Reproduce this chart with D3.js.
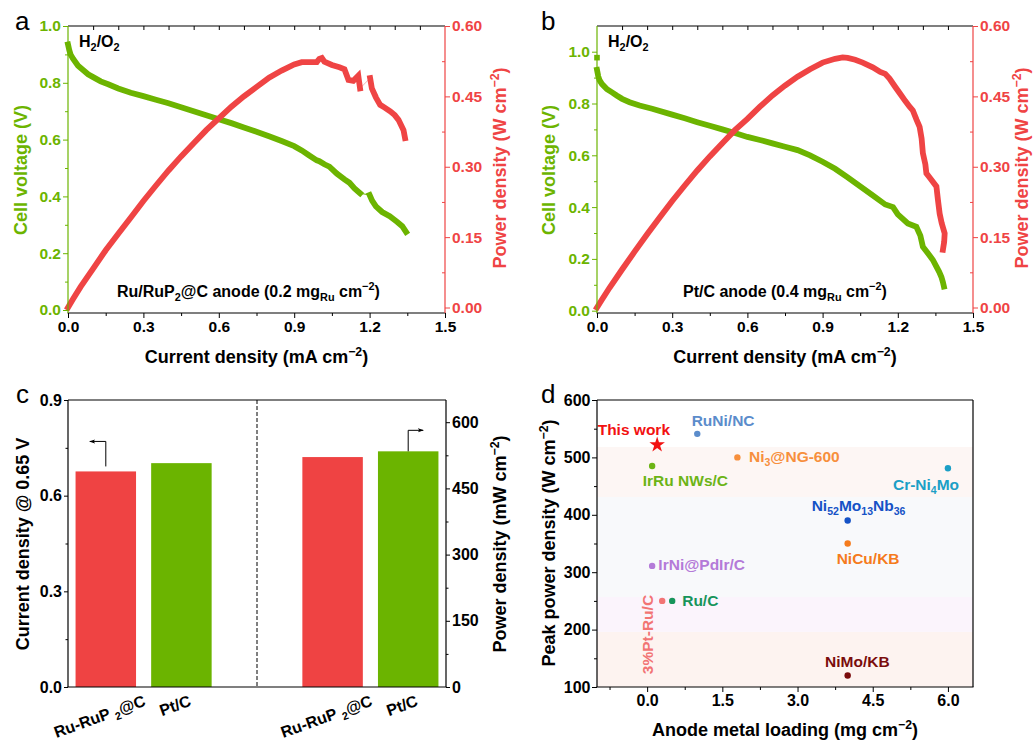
<!DOCTYPE html>
<html>
<head>
<meta charset="utf-8">
<script src="https://cdn.jsdelivr.net/npm/d3@7"></script>
<style>
  body { margin: 0; background: #fff; }
  svg text { font-family: "Liberation Sans", Arial, sans-serif; }
</style>
</head>
<body>
<svg id="fig" width="1033" height="742"></svg>
<script>
// ---------- Panel a: Ru/RuP2@C anode polarization ----------
const aCurrent = [0,0.005,0.01,0.02,0.04,0.06,0.08,0.1,0.13,0.16,0.2,0.25,0.3,0.35,0.4,0.45,0.5,0.55,0.6,0.65,0.7,0.75,0.8,0.85,0.9,0.93,0.96,0.99,1.0,1.02,1.04,1.07,1.1,1.12,1.14,1.162,null,1.2,1.21,1.225,1.25,1.28,1.31,1.33,1.345];
const aVoltage = [0.935,0.915,0.9,0.885,0.86,0.845,0.83,0.82,0.805,0.795,0.78,0.765,0.753,0.74,0.728,0.714,0.7,0.686,0.672,0.658,0.643,0.628,0.612,0.595,0.577,0.562,0.544,0.527,0.524,0.513,0.505,0.48,0.46,0.448,0.428,0.411,null,0.405,0.385,0.365,0.345,0.33,0.31,0.295,0.275];
const aPowCurrent = [0,0.02,0.05,0.1,0.15,0.2,0.25,0.3,0.35,0.4,0.45,0.5,0.55,0.6,0.65,0.7,0.75,0.8,0.85,0.9,0.93,0.96,0.99,1.0,1.01,1.02,1.05,1.08,1.1,1.116,1.135,1.155,1.162,null,1.202,1.209,1.225,1.242,1.26,1.282,1.3,1.315,1.335,1.341];
const aPower = [0,0.018,0.044,0.083,0.122,0.157,0.192,0.227,0.26,0.292,0.322,0.35,0.378,0.403,0.428,0.45,0.47,0.49,0.505,0.518,0.523,0.523,0.523,0.53,0.532,0.524,0.517,0.512,0.508,0.485,0.483,0.494,0.467,null,0.489,0.467,0.448,0.432,0.426,0.418,0.41,0.4,0.378,0.361];

// ---------- Panel b: Pt/C anode polarization ----------
const bOpenCircuit = [0, 0.977];
const bCurrent = [0,0.005,0.01,0.02,0.04,0.06,0.08,0.1,0.13,0.17,0.22,0.3,0.35,0.4,0.45,0.5,0.55,0.6,0.65,0.7,0.75,0.8,0.85,0.9,0.95,1.0,1.05,1.1,1.15,1.181,1.2,1.24,1.274,1.29,1.30,1.32,1.34,1.354,1.365,1.374,1.38,1.384];
const bVoltage = [0.93,0.905,0.89,0.875,0.855,0.843,0.83,0.818,0.805,0.792,0.78,0.757,0.743,0.728,0.714,0.7,0.686,0.671,0.659,0.646,0.633,0.62,0.6,0.575,0.548,0.515,0.48,0.445,0.41,0.4,0.372,0.337,0.324,0.29,0.247,0.222,0.196,0.17,0.15,0.13,0.11,0.093];
const bPowCurrent = [0,0.02,0.05,0.1,0.15,0.2,0.25,0.3,0.35,0.4,0.45,0.5,0.55,0.6,0.65,0.7,0.75,0.8,0.85,0.9,0.95,0.98,1.0,1.03,1.06,1.1,1.13,1.15,1.167,1.19,1.21,1.23,1.247,1.26,1.275,1.287,1.295,1.30,1.31,1.314,1.33,1.354,1.36,1.367,1.375,1.387,1.385,1.38];
const bPower = [0,0.017,0.042,0.081,0.119,0.156,0.192,0.227,0.26,0.292,0.322,0.35,0.378,0.402,0.428,0.452,0.473,0.492,0.508,0.522,0.53,0.533,0.532,0.528,0.522,0.512,0.502,0.498,0.488,0.47,0.455,0.44,0.428,0.42,0.4,0.385,0.36,0.329,0.305,0.286,0.275,0.258,0.23,0.2,0.18,0.158,0.14,0.123];

// ---------- Panel c: bar comparison ----------
const barCatalysts = ["Ru-RuP2@C", "Pt/C"];
const currentAt065V = [0.676, 0.702];     // mA cm-2 at 0.65 V
const peakPowerMW = [521, 534];           // mW cm-2

// ---------- Panel d: literature comparison ----------
const catalysts = ["This work","RuNi/NC","Ni3@NG-600","IrRu NWs/C","Cr-Ni4Mo","Ni52Mo13Nb36","NiCu/KB","IrNi@PdIr/C","3%Pt-Ru/C","Ru/C","NiMo/KB"];
const metalLoading = [0.2, 1.0, 1.8, 0.1, 6.0, 4.0, 4.0, 0.1, 0.3, 0.5, 4.0];
const peakPower = [522, 541, 500, 485, 481, 390, 350, 311, 250, 250, 120];

// tick values
const jTicks = [0, 0.3, 0.6, 0.9, 1.2, 1.5];
const vTicks = [0, 0.2, 0.4, 0.6, 0.8, 1.0];
const pTicks = [0, 0.15, 0.30, 0.45, 0.60];
const cLeftTicks = [0, 0.3, 0.6, 0.9];
const cRightTicks = [0, 150, 300, 450, 600];
const dXTicks = [0, 1.5, 3.0, 4.5, 6.0];
const dYTicks = [100, 200, 300, 400, 500, 600];

// ---------- styling ----------
const GREEN = "#6cb400", RED = "#ef4444", BAR_RED = "#ef4343", BAR_GREEN = "#6bb400";
const pointColors = ["#f21111","#5b8ccb","#f78f3c","#6cb416","#1b9fc6","#1552c6","#f57b1c","#b47ad8","#f27474","#16955a","#7a0c0c"];
const labelParts = [
  [["This work"]], [["RuNi/NC"]], [["Ni"],["3","sub"],["@NG-600"]], [["IrRu NWs/C"]],
  [["Cr-Ni"],["4","sub"],["Mo"]], [["Ni"],["52","sub"],["Mo"],["13","sub"],["Nb"],["36","sub"]],
  [["NiCu/KB"]], [["IrNi@PdIr/C"]], [["3%Pt-Ru/C"]], [["Ru/C"]], [["NiMo/KB"]]
];
const labelOffsets = [[-59.5,-9.5],[-5.6,-7.6],[11.6,4.6],[-9.4,20],[-55,22],[-36,-9.6],[-11,20],[6.2,4.4],[-9,-6],[10,5.4],[-22.6,-8.5]];
const bandEdges = [100, 196, 257, 431, 518, 600];
const bandColors = ["#fdf3f0", "#fbf4fc", "#f8f9fb", "#fdf6f4", "#ffffff"];

const svg = d3.select("#fig");

// text with sub/superscripts
function rich(text, parts, size) {
  let shift = 0;
  parts.forEach(([t, k]) => {
    const target = k === "sup" ? -0.38 * size : k === "sub" ? 0.26 * size : 0;
    const ts = text.append("tspan").attr("dy", target - shift).text(t);
    if (k) ts.attr("font-size", size * 0.68);
    shift = target;
  });
  return text;
}

function label(x, y, parts, opts) {
  const o = Object.assign({ size: 16, weight: "bold", color: "#000", anchor: "start", rotate: 0 }, opts || {});
  const t = svg.append("text")
    .attr("transform", `translate(${x},${y}) rotate(${o.rotate})`)
    .attr("text-anchor", o.anchor)
    .attr("font-size", o.size)
    .attr("font-weight", o.weight)
    .attr("fill", o.color);
  return rich(t, parts, o.size);
}

function styleAxis(g, color, fs) {
  g.select(".domain").remove();
  g.selectAll("line").attr("stroke", color).attr("stroke-width", 1);
  g.selectAll("text").attr("fill", color).attr("font-size", fs).attr("font-weight", "bold")
    .attr("font-family", '"Liberation Sans", Arial, sans-serif');
  return g;
}

function addAxis(gen, tx, ty, color, fs) {
  const g = svg.append("g").attr("transform", `translate(${tx},${ty})`).call(gen);
  return styleAxis(g, color, fs);
}

function hline(x1, x2, y, color) {
  svg.append("line").attr("x1", x1).attr("x2", x2).attr("y1", y).attr("y2", y).attr("stroke", color).attr("stroke-width", 1.2);
}
function vline(x, y1, y2, color, dash) {
  const l = svg.append("line").attr("x1", x).attr("x2", x).attr("y1", y1).attr("y2", y2).attr("stroke", color).attr("stroke-width", 1.2);
  if (dash) l.attr("stroke-dasharray", dash).attr("stroke-width", 1);
}

function zip(xs, ys) { return xs.map((v, i) => [v, ys[i]]); }

// ---------- polarization panel (a and b) ----------
function polarizationPanel(p) {
  const { L, R, T, B } = p;
  const x = d3.scaleLinear().domain([0, 1.5]).range([L, R]);
  const yV = d3.scaleLinear().domain([0, 1]).range(p.vRange);
  const yP = d3.scaleLinear().domain([0, 0.6]).range([307.5, 26]);

  const volt = zip(p.j, p.v), pow = zip(p.pj, p.pw);

  const drawCurve = (pts, y, color, faint) => {
    const valid = pts.filter(d => d[1] != null);
    svg.append("path")
      .attr("d", d3.line().x(d => x(d[0])).y(d => y(d[1]))(valid))
      .attr("fill", "none").attr("stroke", faint).attr("stroke-width", 1);
    svg.append("path")
      .attr("d", d3.line().defined(d => d[1] != null).x(d => x(d[0])).y(d => y(d[1]))(pts))
      .attr("fill", "none").attr("stroke", color).attr("stroke-width", 5.8)
      .attr("stroke-linejoin", "miter").attr("stroke-linecap", "square");
  };
  drawCurve(volt, yV, GREEN, GREEN);
  if (p.oc) {
    svg.append("rect").attr("x", x(p.oc[0]) - 2.8).attr("y", yV(p.oc[1]) - 2.8)
      .attr("width", 5.6).attr("height", 5.6).attr("fill", GREEN);
  }
  drawCurve(pow, yP, RED, "#f7b0b0");

  // frame
  hline(L, R, T, "#000");
  hline(L - 0.5, R + 0.5, B, "#000");
  vline(L, T, B, GREEN);
  vline(R, T, B, RED);

  // axes
  addAxis(d3.axisBottom(x).tickValues(jTicks).tickFormat(d3.format(".1f")).tickSize(5).tickPadding(3), 0, B, "#000", 15.5);
  addAxis(d3.axisBottom(x).tickValues(d3.range(0.15, 1.5, 0.3)).tickFormat("").tickSize(3), 0, B, "#000", 15);
  addAxis(d3.axisTop(x).tickValues(d3.range(0.1, 1.45, 0.1)).tickFormat("").tickSize(-4), 0, T, "#000", 15);
  addAxis(d3.axisLeft(yV).tickValues(vTicks).tickFormat(d3.format(".1f")).tickSize(5).tickPadding(2), L, 0, GREEN, 15.5);
  addAxis(d3.axisLeft(yV).tickValues(d3.range(0.1, 1.0, 0.2)).tickFormat("").tickSize(3), L, 0, GREEN, 15);
  addAxis(d3.axisRight(yP).tickValues(pTicks).tickFormat(d3.format(".2f")).tickSize(5).tickPadding(2), R, 0, RED, 15.5);
  addAxis(d3.axisRight(yP).tickValues(d3.range(0.075, 0.6, 0.15)).tickFormat("").tickSize(-3), R, 0, RED, 15);

  // titles
  label((L + R) / 2, 363, [["Current density (mA cm"], ["\u22122", "sup"], [")"]], { size: 18, anchor: "middle" });
  label(p.leftTitleX, 170, [["Cell voltage (V)"]], { size: 18, anchor: "middle", rotate: -90, color: GREEN });
  label(p.rightTitleX, 168, [["Power density (W cm"], ["\u22122", "sup"], [")"]], { size: 18, anchor: "middle", rotate: -90, color: RED });

  label(L + 11, 46.5, [["H"], ["2", "sub"], ["/O"], ["2", "sub"]], { size: 16 });
  label(p.noteX, 296.5, p.note, { size: 16 });
  label(p.letterX, 30, [[p.letter]], { size: 26, weight: "normal" });
}

polarizationPanel({
  L: 68, R: 445, T: 26, B: 313, vRange: [310, 26],
  j: aCurrent, v: aVoltage, pj: aPowCurrent, pw: aPower,
  leftTitleX: 27, rightTitleX: 506, noteX: 117, letterX: 15, letter: "a",
  note: [["Ru/RuP"], ["2", "sub"], ["@C anode (0.2 mg"], ["Ru", "sub"], [" cm"], ["\u22122", "sup"], [")"]]
});
polarizationPanel({
  L: 597, R: 973, T: 26, B: 313, vRange: [310.7, 51.7],
  j: bCurrent, v: bVoltage, pj: bPowCurrent, pw: bPower, oc: bOpenCircuit,
  leftTitleX: 555, rightTitleX: 1028, noteX: 683, letterX: 541, letter: "b",
  note: [["Pt/C anode (0.4 mg"], ["Ru", "sub"], [" cm"], ["\u22122", "sup"], [")"]]
});

// ---------- Panel c ----------
(function () {
  const L = 68, R = 446, T = 400, B = 687;
  const x = d3.scaleLinear().domain([0.5, 5.5]).range([L, R]);
  const yL = d3.scaleLinear().domain([0, 0.9]).range([B, T]);
  const yR = d3.scaleLinear().domain([0, 600]).range([B, B - 4 * 66.2]);
  const bw = x(0.8) - x(0);
  const colorsC = [BAR_RED, BAR_GREEN];

  const groups = [
    { vals: currentAt065V, y: yL, start: 1 },
    { vals: peakPowerMW, y: yR, start: 4 }
  ];
  groups.forEach(gr => {
    svg.selectAll(null).data(gr.vals).enter().append("rect")
      .attr("x", (d, i) => x(gr.start + i) - bw / 2)
      .attr("width", bw)
      .attr("y", d => gr.y(d))
      .attr("height", d => B - gr.y(d))
      .attr("fill", (d, i) => colorsC[i]);
  });

  // frame
  hline(L, R, T, "#000");
  hline(L - 0.5, R + 0.5, B, "#000");
  vline(L, T, B, "#000");
  vline(R, T, B, "#000");
  vline(x(3), T, B, "#000", "4,2");

  addAxis(d3.axisLeft(yL).tickValues(cLeftTicks).tickFormat(d3.format(".1f")).tickSize(4).tickPadding(2), L, 0, "#000", 16);
  addAxis(d3.axisLeft(yL).tickValues([0.15, 0.45, 0.75]).tickFormat("").tickSize(2.5), L, 0, "#000", 16);
  addAxis(d3.axisRight(yR).tickValues(cRightTicks).tickFormat(d3.format("d")).tickSize(4).tickPadding(2), R, 0, "#000", 16);
  addAxis(d3.axisRight(yR).tickValues([75, 225, 375, 525]).tickFormat("").tickSize(2.5), R, 0, "#000", 16);

  // arrows pointing to the axis each group is read against
  const defs = svg.append("defs");
  defs.append("marker").attr("id", "ah").attr("viewBox", "0 0 10 10").attr("refX", 9).attr("refY", 5)
    .attr("markerWidth", 6).attr("markerHeight", 6).attr("orient", "auto-start-reverse")
    .append("path").attr("d", "M0,1.5 L10,5 L0,8.5 L2.5,5 Z").attr("fill", "#000");
  const ax1 = x(1), top1 = yL(currentAt065V[0]);
  svg.append("path").attr("d", `M${ax1},${top1 - 5} V${top1 - 30} H${ax1 - 16}`)
    .attr("fill", "none").attr("stroke", "#000").attr("stroke-width", 1).attr("marker-end", "url(#ah)");
  const ax2 = x(5), top2 = yR(peakPowerMW[1]);
  svg.append("path").attr("d", `M${ax2},${top2} V${top2 - 21} H${ax2 + 15}`)
    .attr("fill", "none").attr("stroke", "#000").attr("stroke-width", 1).attr("marker-end", "url(#ah)");

  // rotated category labels
  const catParts = [[["Ru-RuP "], ["2", "sub"], ["@C"]], [["Pt/C"]]];
  [1, 2, 4, 5].forEach((pos, k) => {
    const parts = catParts[k % 2];
    const g = svg.append("g");
    const t = g.append("text").attr("text-anchor", "middle").attr("font-size", 16).attr("font-weight", "bold").attr("y", 5);
    rich(t, parts, 16);
    const len = t.node().getComputedTextLength();
    const a = 20 * Math.PI / 180;
    const cy = 694 + (len * Math.sin(a) + 14 * Math.cos(a)) / 2;
    g.attr("transform", `translate(${x(pos) - 6},${cy}) rotate(-20)`);
  });

  label(29, 544, [["Current density @ 0.65 V"]], { size: 18, anchor: "middle", rotate: -90 });
  label(506, 544, [["Power density (mW cm"], ["\u22122", "sup"], [")"]], { size: 18, anchor: "middle", rotate: -90 });
  label(16, 403, [["c"]], { size: 26, weight: "normal" });
})();

// ---------- Panel d ----------
(function () {
  const L = 597, R = 973, T = 400, B = 687;
  const x = d3.scaleLinear().domain([-1, 6.5]).range([L, R]);
  const y = d3.scaleLinear().domain([100, 600]).range([B, T]);

  // shaded bands
  bandColors.forEach((c, i) => {
    svg.append("rect").attr("x", L).attr("width", R - L)
      .attr("y", y(bandEdges[i + 1])).attr("height", y(bandEdges[i]) - y(bandEdges[i + 1]))
      .attr("fill", c);
  });

  catalysts.forEach((name, i) => {
    const px = x(metalLoading[i]), py = y(peakPower[i]);
    if (i === 0) {
      svg.append("path").attr("d", d3.symbol(d3.symbolStar, 75)()).attr("transform", `translate(${px},${py})`).attr("fill", pointColors[i]);
    } else {
      svg.append("circle").attr("cx", px).attr("cy", py).attr("r", 3.2).attr("fill", pointColors[i]);
    }
    const [dx, dy] = labelOffsets[i];
    if (name === "3%Pt-Ru/C") {
      label(px + dx, py + dy, labelParts[i], { size: 15.5, color: pointColors[i], anchor: "end", rotate: -90 });
    } else {
      label(px + dx, py + dy, labelParts[i], { size: 15.5, color: pointColors[i] });
    }
  });

  hline(L, R, T, "#000");
  hline(L - 0.5, R + 0.5, B, "#000");
  vline(L, T, B, "#000");
  vline(R, T, B, "#000");

  addAxis(d3.axisBottom(x).tickValues(dXTicks).tickFormat(d3.format(".1f")).tickSize(5).tickPadding(3), 0, B, "#000", 16);
  addAxis(d3.axisBottom(x).tickValues([-0.75, 0.75, 2.25, 3.75, 5.25]).tickFormat("").tickSize(3), 0, B, "#000", 16);
  addAxis(d3.axisLeft(y).tickValues(dYTicks).tickFormat(d3.format("d")).tickSize(5).tickPadding(1.5), L, 0, "#000", 16);
  addAxis(d3.axisLeft(y).tickValues([150, 250, 350, 450, 550]).tickFormat("").tickSize(3), L, 0, "#000", 16);

  label((L + R) / 2, 736, [["Anode metal loading (mg cm"], ["\u22122", "sup"], [")"]], { size: 18, anchor: "middle" });
  label(555, 543, [["Peak power density (W cm"], ["\u22122", "sup"], [")"]], { size: 18, anchor: "middle", rotate: -90 });
  label(541, 403, [["d"]], { size: 26, weight: "normal" });
})();
</script>
</body>
</html>
